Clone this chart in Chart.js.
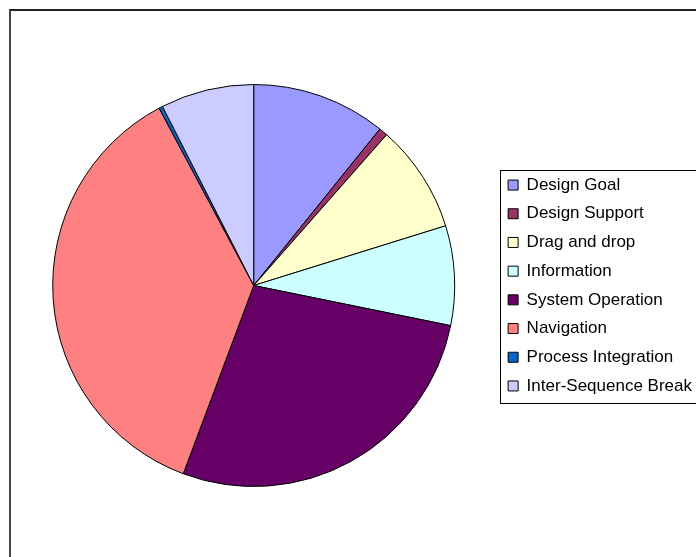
<!DOCTYPE html>
<html>
<head>
<meta charset="utf-8">
<script src="https://cdn.jsdelivr.net/npm/chart.js@4/dist/chart.umd.min.js"></script>
<style>
  html, body { margin: 0; padding: 0; background: #fff; overflow: hidden; }
  body { width: 696px; height: 557px; position: relative; }
  #frame { position: absolute; left: 9px; top: 9px; width: 760px; height: 600px;
           border-top: 2px solid #222; border-left: 2px solid #444; }
  #wrap { position: absolute; left: 0; top: 0; width: 720px; height: 557px; }
</style>
</head>
<body>
<div id="frame"></div>
<div id="wrap"><canvas id="pieChart"></canvas></div>
<script>
// categorias e valores (%)
var categorias = ['Design Goal', 'Design Support', 'Drag and drop', 'Information',
                  'System Operation', 'Navigation', 'Process Integration', 'Inter-Sequence Break'];
var valores = [10.8, 0.7, 8.7, 8.0, 27.5, 36.5, 0.3, 7.5];
var cores = ['#9999FF', '#993366', '#FFFFCC', '#CCFFFF', '#660066', '#FF8080', '#0066CC', '#CCCCFF'];

// moldura da legenda
var legendBox = {
  id: 'legendBox',
  afterDraw: function (chart) {
    var hb = chart.legend.legendHitBoxes;
    if (!hb || !hb.length) return;
    var ctx = chart.ctx;
    var first = hb[0], last = hb[hb.length - 1];
    ctx.save();
    ctx.strokeStyle = '#000';
    ctx.lineWidth = 1;
    ctx.strokeRect(Math.round(first.left - 8) + 0.5, Math.round(first.top - 7) + 0.5,
                   300, Math.round(last.top + last.height - first.top + 15));
    ctx.restore();
  }
};

new Chart(document.getElementById('pieChart'), {
  type: 'pie',
  data: {
    labels: categorias,
    datasets: [{
      data: valores,
      backgroundColor: cores,
      borderColor: '#000',
      borderWidth: 1
    }]
  },
  options: {
    responsive: true,
    maintainAspectRatio: false,
    animation: false,
    layout: { padding: { left: 11, right: 18, top: 84, bottom: 70 } },
    plugins: {
      tooltip: { enabled: false },
      legend: {
        position: 'right',
        labels: {
          color: '#000',
          boxWidth: 10,
          boxHeight: 10,
          padding: 11.7,
          font: { family: 'Liberation Sans, Arial, sans-serif', size: 17 }
        }
      }
    }
  },
  plugins: [legendBox]
});
</script>
</body>
</html>
